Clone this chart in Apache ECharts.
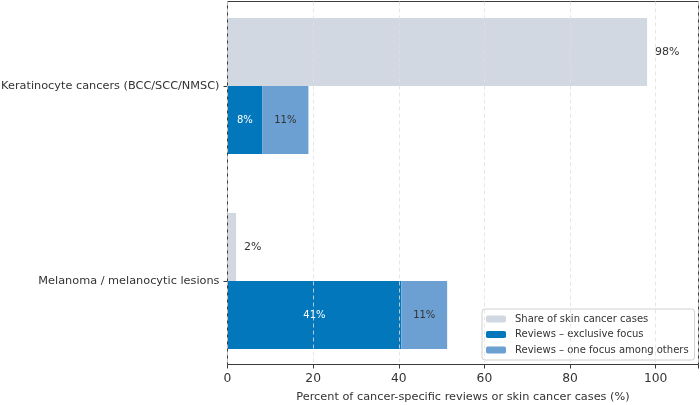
<!DOCTYPE html>
<html>
<head>
<meta charset="utf-8">
<script src="https://cdn.jsdelivr.net/npm/echarts@6.0.0/dist/echarts.min.js"></script>
<style>
  html, body { margin: 0; padding: 0; background: #fff; }
  #chart { width: 700px; height: 405px; }
</style>
</head>
<body>
<div id="chart"></div>
<script>
// categories bottom -> top (category y axis starts at the bottom)
const categories = ["Melanoma / melanocytic lesions", "Keratinocyte cancers (BCC/SCC/NMSC)"];
const shareOfCases = [2, 98];
const exclusiveFocus = [40.6, 8.1];
const oneFocusAmong = [10.7, 10.8];
const xMin = 0;
const xMax = 110;
const xStep = 20;

const FONT = "DejaVu Sans";
const pct = (p) => Math.round(p.value) + "%";

const chart = echarts.init(document.getElementById("chart"));
const option = {
  animation: false,
  textStyle: { fontFamily: FONT },
  // grid 0 -> frame, x axis, dashed grid lines; grid 1 -> bars and categories
  grid: [
    {
      left: 227.5, top: 1.5, width: 471, height: 363,
      show: true, borderColor: "#3a3a3a", borderWidth: 1, z: 5,
      containLabel: false, outerBoundsMode: "none",
    },
    {
      left: 227.5, top: -11.5, width: 471, height: 390,
      containLabel: false, outerBoundsMode: "none",
    },
  ],
  xAxis: [
    {
      gridIndex: 0,
      type: "value",
      min: xMin,
      max: xMax,
      interval: xStep,
      z: 5,
      name: "Percent of cancer-specific reviews or skin cancer cases (%)",
      nameLocation: "middle",
      nameGap: 27,
      nameTextStyle: { fontSize: 11.3, color: "#333", fontFamily: FONT },
      axisLine: { show: false },
      axisTick: { show: true, inside: false, length: 4, lineStyle: { color: "#3a3a3a" } },
      axisLabel: {
        fontSize: 12.3,
        color: "#333",
        margin: 8,
        fontFamily: FONT,
        formatter: (v) => (v > 100 ? "" : String(v)),
      },
      splitLine: { show: true, lineStyle: { type: [4, 3], color: "#e0e0e0", width: 0.8 } },
    },
    { gridIndex: 1, type: "value", min: xMin, max: xMax, show: false },
  ],
  yAxis: [
    { gridIndex: 0, type: "value", show: false },
    {
      gridIndex: 1,
      type: "category",
      data: categories,
      axisLine: { show: false },
      axisTick: { show: true, alignWithLabel: true, length: 4, lineStyle: { color: "#3a3a3a" } },
      axisLabel: { fontSize: 11.3, color: "#333", margin: 8, fontFamily: FONT },
      splitLine: { show: false },
    },
  ],
  legend: {
    orient: "vertical",
    left: 482,
    top: 309,
    itemWidth: 20,
    itemHeight: 7,
    itemGap: 5.5,
    padding: [5, 6, 5, 4],
    borderColor: "#d0d0d0",
    borderWidth: 1,
    borderRadius: 3,
    backgroundColor: "rgba(255,255,255,0.85)",
    textStyle: { fontSize: 10, color: "#333", fontFamily: FONT, padding: [0, 0, 0, 4] },
    data: ["Share of skin cancer cases", "Reviews – exclusive focus", "Reviews – one focus among others"],
  },
  series: [
    {
      name: "Share of skin cancer cases",
      type: "bar",
      xAxisIndex: 1,
      yAxisIndex: 1,
      barWidth: 68,
      barGap: "0%",
      itemStyle: { color: "#d1d8e1" },
      label: { show: true, position: "right", distance: 8, color: "#333", fontSize: 11, formatter: pct },
      data: shareOfCases,
    },
    {
      name: "Reviews – exclusive focus",
      type: "bar",
      xAxisIndex: 1,
      yAxisIndex: 1,
      stack: "reviews",
      barWidth: 68,
      barGap: "0%",
      itemStyle: { color: "#0377bb" },
      label: { show: true, position: "inside", color: "#fff", fontSize: 10, formatter: pct },
      data: exclusiveFocus,
    },
    {
      name: "Reviews – one focus among others",
      type: "bar",
      xAxisIndex: 1,
      yAxisIndex: 1,
      stack: "reviews",
      barWidth: 68,
      barGap: "0%",
      itemStyle: { color: "#6ca0d2" },
      label: { show: true, position: "inside", color: "#333", fontSize: 10, formatter: pct },
      data: oneFocusAmong,
    },
  ],
};
chart.setOption(option);
</script>
</body>
</html>
